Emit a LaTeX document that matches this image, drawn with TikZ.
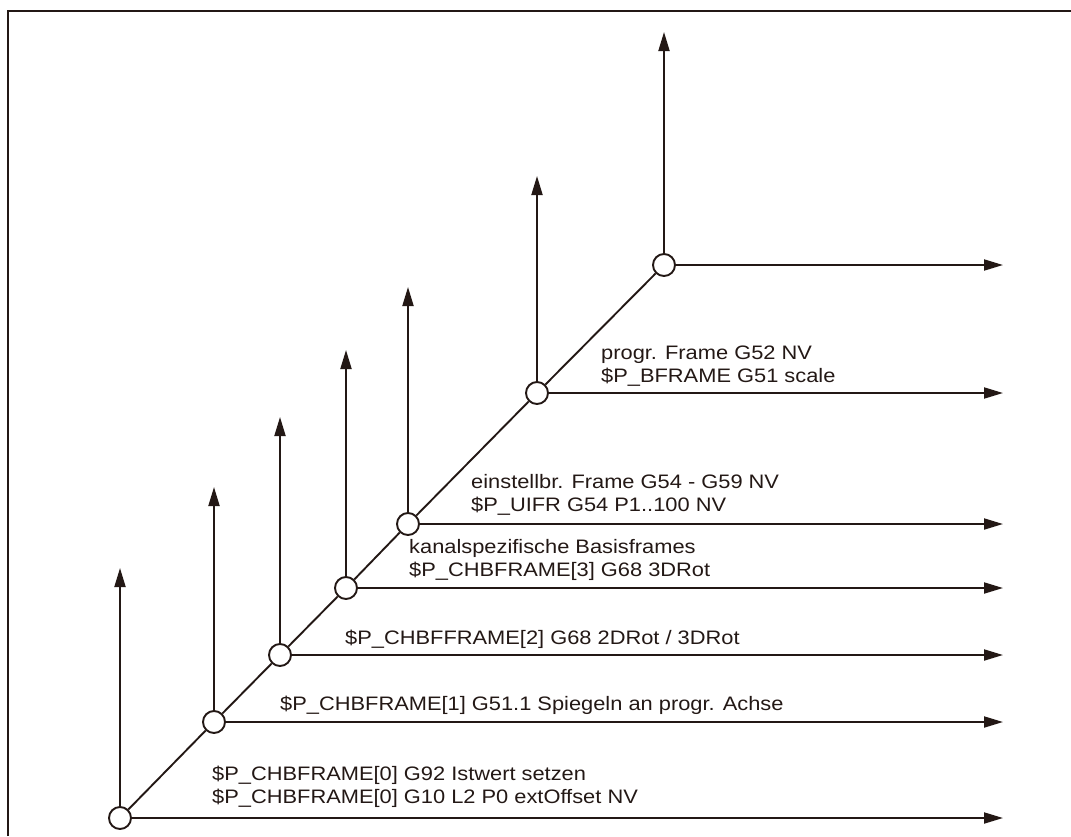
\documentclass[tikz,border=0pt]{standalone}
\usepackage{fontspec}
\setmainfont{Liberation Sans}
\newfontfamily\lblfont{Liberation Sans}[FakeStretch=1.12]
\usetikzlibrary{arrows.meta}
\definecolor{ink}{RGB}{35,24,21}
\begin{document}
\begin{tikzpicture}[x=1pt,y=-1pt,
  line/.style={draw=ink,line width=1.9pt},
  axis/.style={line,-{Triangle[length=19pt,width=11pt]}},
  origin/.style={circle,draw=ink,line width=1.9pt,fill=white,minimum size=22pt,inner sep=0pt},
  lbl/.style={text=ink,font=\lblfont\fontsize{19.5}{23.5}\selectfont,align=left,anchor=west,inner sep=0pt}]
\useasboundingbox (0,0) rectangle (1071,836);
\draw[ink,line width=2.3pt] (8,836) -- (8,11) -- (1071,11);
% origins
\node[origin] (o0) at (120,818) {};
\node[origin] (o1) at (214,722) {};
\node[origin] (o2) at (280,655) {};
\node[origin] (o3) at (346,588) {};
\node[origin] (o4) at (408,524) {};
\node[origin] (o5) at (537,393) {};
\node[origin] (o6) at (664,265) {};
% arrow end points
\coordinate (h0) at (1003,818);
\coordinate (h1) at (1003,722);
\coordinate (h2) at (1003,655);
\coordinate (h3) at (1003,588);
\coordinate (h4) at (1003,524);
\coordinate (h5) at (1003,393);
\coordinate (h6) at (1003,265);
\coordinate (v0) at (120,568);
\coordinate (v1) at (214,487);
\coordinate (v2) at (280,417);
\coordinate (v3) at (346,350);
\coordinate (v4) at (408,287);
\coordinate (v5) at (537,176);
\coordinate (v6) at (664,32);
% diagonal
\draw[line] (o0) -- (o1);
\draw[line] (o1) -- (o2);
\draw[line] (o2) -- (o3);
\draw[line] (o3) -- (o4);
\draw[line] (o4) -- (o5);
\draw[line] (o5) -- (o6);
% axes
\foreach \i in {0,...,6}{
  \draw[axis] (o\i) -- (h\i);
  \draw[axis] (o\i) -- (v\i);
}
% labels
\node[lbl] (t6) at (601,366) {progr. Frame G52 NV\\\$P\_BFRAME G51 scale};
\node[lbl] (t4) at (471,495) {einstellbr. Frame G54 - G59 NV\\\$P\_UIFR G54 P1..100 NV};
\node[lbl] (t3) at (409,560) {kanalspezifische Basisframes\\\$P\_CHBFRAME[3] G68 3DRot};
\node[lbl] (t2) at (345,639) {\$P\_CHBFFRAME[2] G68 2DRot / 3DRot};
\node[lbl] (t1) at (280,705) {\$P\_CHBFRAME[1] G51.1 Spiegeln an progr. Achse};
\node[lbl] (t0) at (212,787) {\$P\_CHBFRAME[0] G92 Istwert setzen\\\$P\_CHBFRAME[0] G10 L2 P0 extOffset NV};
\end{tikzpicture}
\end{document}
